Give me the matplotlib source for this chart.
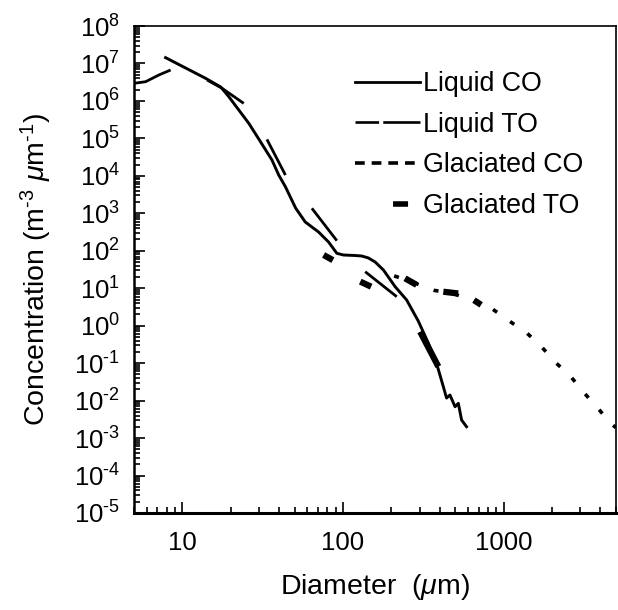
import numpy as np
import matplotlib
matplotlib.use('Agg')
import matplotlib.pyplot as plt
from matplotlib.lines import Line2D
from matplotlib.ticker import LogLocator, FuncFormatter, NullFormatter

plt.rcParams['font.family'] = ['Liberation Sans', 'DejaVu Sans']
plt.rcParams['mathtext.fontset'] = 'custom'
plt.rcParams['mathtext.rm'] = 'Liberation Sans'
plt.rcParams['mathtext.it'] = 'Liberation Sans:italic'
plt.rcParams['mathtext.default'] = 'regular'
plt.rcParams['lines.scale_dashes'] = False

nan = np.nan

# liquid cloud, CO probe
liq_co_d = [7.86, 13.94, 17.34, 19.45, 25.9, 29.9, 36.1, 39.8, 43.8, 50.7, 58.2,
            70.4, 81.3, 91.5, 100.7, 119, 130.9, 144, 158.5, 178.5, 211, 249,
            294, 340, 382, 421, 441, 463, 498, 522, 547, 587]
liq_co_n = [1.43e7, 4.02e6, 2.35e6, 1.30e6, 2.53e5, 9.6e4, 2.65e4, 1.05e4, 5.1e3,
            1.38e3, 586, 317, 171, 85.5, 77.1, 74.7, 72.4, 64.1, 50.1, 30.6, 11.0,
            4.84, 1.33, 0.339, 0.099, 0.0235, 0.0117, 0.0141, 6.87e-3, 8.47e-3,
            3.03e-3, 2.01e-3]

# liquid cloud, TO probe (pieces split by nan)
liq_to_d = [5.0, 5.91, 7.14, 8.45, nan, 14.26, 17.67, 24.1, nan, 33.6, 43.8, nan,
            64.0, 91.5, nan, 137.4, 216]
liq_to_n = [2.95e6, 3.26e6, 4.92e6, 6.69e6, nan, 3.61e6, 2.17e6, 8.6e5, nan,
            9.4e4, 1.05e4, nan, 1.36e3, 186, nan, 27.6, 5.94]

# glaciated cloud, CO probe
gla_co_d = [208, 263, 372, 468, 692, 839, 1076, 1387, 1718, 2099, 2618, 3162,
            3864, 4677, 5000]
gla_co_n = [21.4, 15.1, 8.7, 7.6, 4.17, 2.91, 1.36, 0.65, 0.275, 0.105, 0.0435,
            0.0162, 0.0062, 0.00237, 0.0019]

# glaciated cloud, TO probe
gla_to_d = [75.7, 86.5, nan, 128, 149.6, nan, 243, 287, nan, 302, 392, nan,
            421, 521, nan, 653, 724]
gla_to_n = [77.1, 56.2, nan, 15.0, 11.0, nan, 18.4, 12.3, nan, 0.69, 0.081, nan,
            8.07, 7.24, nan, 4.8, 3.6]

labels = ['Liquid CO', 'Liquid TO', 'Glaciated CO', 'Glaciated TO']


def pow10(v, pos):
    e = int(round(np.log10(v)))
    return '$10^{%s}$' % (str(e) if e >= 0 else '\\text{-}%d' % -e)


fig = plt.figure(figsize=(6.18, 6.10), dpi=100)
ax = fig.add_axes([134 / 618, 1 - 513 / 610, 482 / 618, 487 / 610])

ax.plot(liq_co_d, liq_co_n, color='k', lw=2.1, solid_joinstyle='round')
ax.plot(liq_to_d, liq_to_n, color='k', lw=2.0, solid_capstyle='butt')
ax.plot(gla_co_d, gla_co_n, color='k', lw=2.6, dashes=(3.6, 11.5))
ax.plot(gla_to_d, gla_to_n, color='k', lw=4.5, solid_capstyle='butt')

ax.set_xscale('log')
ax.set_yscale('log')
ax.set_xlim(5, 5000)
ax.set_ylim(1e-5, 1e8)

ax.set_xticks([10, 100, 1000])
ax.set_xticklabels(['10', '100', '1000'])
ax.xaxis.set_minor_locator(LogLocator(base=10, subs=np.arange(2, 10), numticks=20))
ax.xaxis.set_minor_formatter(NullFormatter())
ax.yaxis.set_major_locator(LogLocator(base=10, numticks=20))
ax.yaxis.set_major_formatter(FuncFormatter(pow10))
ax.yaxis.set_minor_locator(LogLocator(base=10, subs=np.arange(2, 10), numticks=20))
ax.yaxis.set_minor_formatter(NullFormatter())

ax.tick_params(which='both', direction='in', top=False, right=False, width=1.2)
ax.tick_params(which='major', length=8, labelsize=18.5)
ax.tick_params(which='minor', length=4)
ax.tick_params(axis='x', pad=13)
ax.tick_params(axis='y', pad=10)

ax.spines['bottom'].set_linewidth(2.2)
ax.spines['left'].set_linewidth(1.8)
ax.spines['top'].set_linewidth(1.2)
ax.spines['right'].set_linewidth(1.2)

ax.set_xlabel('Diameter  ($\\mathit{\\mu}$m)', fontsize=20.5, labelpad=12)
ax.set_ylabel('Concentration (m$^{\\text{-}3}$ $\\mathit{\\mu}$m$^{\\text{-}1}$)',
              fontsize=20.5)
ax.yaxis.set_label_coords(-0.165, 0.5)

handles = [
    Line2D([], [], color='k', lw=2.0),
    Line2D([], [], color='k', lw=1.9, dashes=(17, 3, 30, 3)),
    Line2D([], [], color='k', lw=2.6, dashes=(7, 5)),
    Line2D([], [], color='k', lw=4.0, solid_capstyle='butt',
           linestyle=(33.4, (10.8, 50))),
]
ax.legend(handles, labels, loc='upper left', bbox_to_anchor=(355 / 618, 1 - 71 / 610),
          bbox_transform=fig.transFigure, frameon=False, fontsize=19.3,
          handlelength=2.42, handletextpad=0.1, labelspacing=0.55,
          borderpad=0, borderaxespad=0)

fig.savefig('out.png', dpi=100)
